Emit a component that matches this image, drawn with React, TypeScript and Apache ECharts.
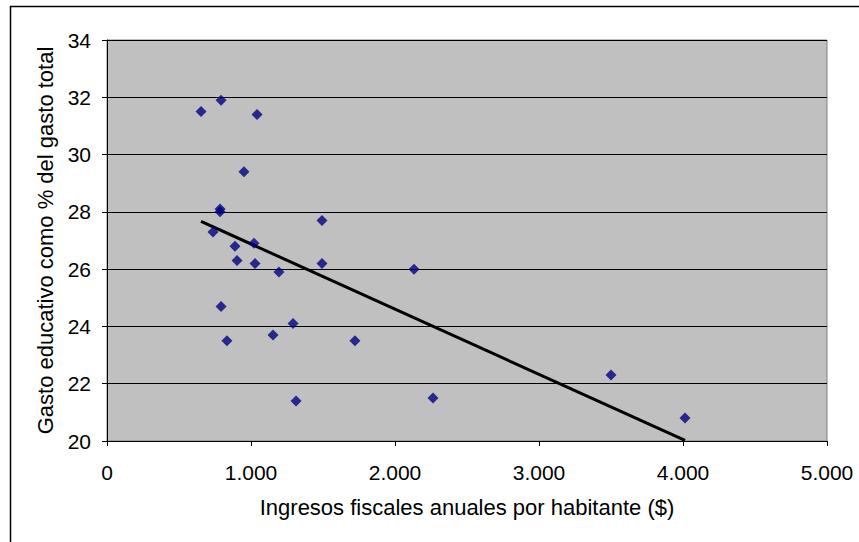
import React, { useEffect, useRef } from "react";
import * as echarts from "echarts";

const xValues = [653, 792, 1042, 951, 785, 785, 736, 889, 1021, 903, 1028, 1194, 1493, 1493, 2132, 792, 833, 1153, 1292, 1722, 1313, 2264, 3500, 4014];
const yValues = [31.5, 31.9, 31.4, 29.4, 28.1, 28.0, 27.3, 26.8, 26.9, 26.3, 26.2, 25.9, 27.7, 26.2, 26.0, 24.7, 23.5, 23.7, 24.1, 23.5, 21.4, 21.5, 22.3, 20.8];
const xTitle = "Ingresos fiscales anuales por habitante ($)";
const yTitle = "Gasto educativo como % del gasto total";

function linearFit(xs: number[], ys: number[]) {
  const n = xs.length;
  const mx = xs.reduce((a, b) => a + b, 0) / n;
  const my = ys.reduce((a, b) => a + b, 0) / n;
  let sxy = 0, sxx = 0;
  for (let i = 0; i < n; i++) {
    sxy += (xs[i] - mx) * (ys[i] - my);
    sxx += (xs[i] - mx) * (xs[i] - mx);
  }
  const b = sxy / sxx;
  return { a: my - b * mx, b };
}

export default function App() {
  const ref = useRef<HTMLDivElement>(null);
  useEffect(() => {
    if (!ref.current) return;
    const chart = echarts.init(ref.current, undefined, { renderer: "svg" });
    const { a, b } = linearFit(xValues, yValues);
    const minX = Math.min(...xValues);
    const maxX = Math.max(...xValues);
    const font = "'Liberation Sans', Arial, sans-serif";
    chart.setOption({
      animation: false,
      backgroundColor: "#ffffff",
      graphic: [
        {
          type: "rect",
          shape: { x: 10.5, y: 6.5, width: 900, height: 600 },
          style: { fill: "none", stroke: "#000", lineWidth: 1.5 },
          silent: true,
          z: -10,
        },
      ],
      grid: {
        left: 107,
        top: 40,
        width: 720,
        height: 401,
        show: true,
        backgroundColor: "#c0c0c0",
        borderColor: "#808080",
        borderWidth: 1,
      },
      xAxis: {
        type: "value",
        min: 0,
        max: 5000,
        interval: 1000,
        name: xTitle,
        nameLocation: "middle",
        nameGap: 55,
        nameTextStyle: { fontFamily: font, fontSize: 22, color: "#000" },
        axisLine: { show: true, lineStyle: { color: "#000", width: 1 } },
        axisTick: { show: true, inside: false, length: 5, lineStyle: { color: "#000" } },
        axisLabel: {
          fontFamily: font,
          fontSize: 21,
          color: "#000",
          margin: 21,
          formatter: (v: number) => (v === 0 ? "0" : v.toLocaleString("de-DE")),
        },
        splitLine: { show: false },
      },
      yAxis: {
        type: "value",
        min: 20,
        max: 34,
        interval: 2,
        name: yTitle,
        nameLocation: "middle",
        nameGap: 51,
        nameTextStyle: { fontFamily: font, fontSize: 22, color: "#000" },
        axisLine: { show: true, lineStyle: { color: "#000", width: 1 } },
        axisTick: { show: true, inside: false, length: 5, lineStyle: { color: "#000" } },
        axisLabel: { fontFamily: font, fontSize: 21, color: "#000", margin: 16 },
        splitLine: { show: true, lineStyle: { color: "#000", width: 1 } },
      },
      series: [
        {
          type: "scatter",
          symbol: "diamond",
          symbolSize: 11,
          itemStyle: { color: "#000080" },
          data: xValues.map((x, i) => [x, yValues[i]]),
          z: 3,
        },
        {
          type: "line",
          data: [
            [minX, a + b * minX],
            [maxX, a + b * maxX],
          ],
          symbol: "none",
          lineStyle: { color: "#000", width: 3 },
          z: 2,
        },
      ],
    });
    return () => chart.dispose();
  }, []);
  return (
    <div
      ref={ref}
      style={{ position: "absolute", left: 0, top: 0, width: 859, height: 542 }}
    />
  );
}
